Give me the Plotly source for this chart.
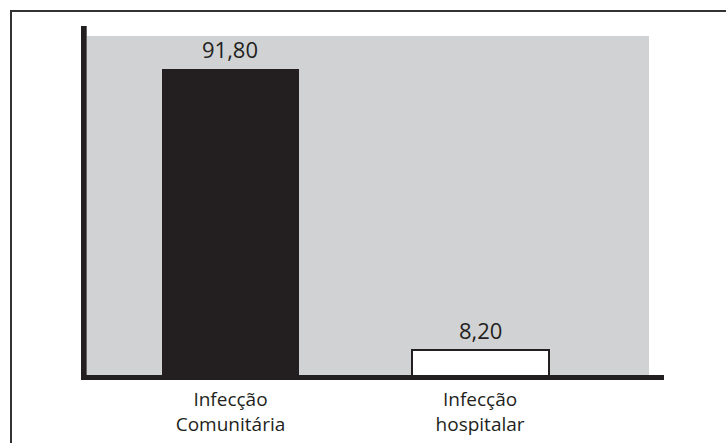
import plotly.graph_objects as go

categories = ["Infecção<br>Comunitária", "Infecção<br>hospitalar"]
values = [91.80, 8.20]
value_labels = ["91,80", "8,20"]

W, H = 726, 443
L, R, T, B = 87, 77, 36, 65
PW, PH = W - L - R, H - T - B
INK = "#231f20"
GRAY = "#d1d2d4"
FONT = "Open Sans"


def px(x):
    return (x - L) / PW


def py(y):
    return (H - B - y) / PH


fig = go.Figure()
fig.add_trace(go.Bar(
    x=categories,
    y=values,
    width=0.549,
    marker=dict(color=[INK, "#ffffff"], line=dict(color=INK, width=[0, 2])),
    hoverinfo="skip",
))

for c, v, t in zip(categories, values, value_labels):
    fig.add_annotation(x=c, y=v, text=t, showarrow=False, yanchor="bottom",
                       yshift=3, font=dict(family=FONT, size=22, color=INK))

shapes = [
    # outer frame (top and left)
    dict(type="line", xref="paper", yref="paper", x0=px(10), x1=px(726), y0=py(11), y1=py(11),
         line=dict(color="#333333", width=2)),
    dict(type="line", xref="paper", yref="paper", x0=px(11), x1=px(11), y0=py(10), y1=py(443),
         line=dict(color="#333333", width=2)),
    # axis lines
    dict(type="rect", xref="paper", yref="paper", x0=px(81), x1=px(86.7), y0=py(26), y1=py(380),
         fillcolor=INK, line=dict(width=0), layer="above"),
    dict(type="rect", xref="paper", yref="paper", x0=px(81), x1=px(664), y0=py(375), y1=py(380),
         fillcolor=INK, line=dict(width=0), layer="above"),
]

fig.update_layout(
    width=W, height=H,
    margin=dict(l=L, r=R, t=T, b=B, pad=0, autoexpand=False),
    paper_bgcolor="#ffffff",
    plot_bgcolor=GRAY,
    showlegend=False,
    shapes=shapes,
    bargap=0,
    xaxis=dict(type="category", range=[-0.575, 1.677], showline=False, showgrid=False,
               zeroline=False, ticks="", ticklabelstandoff=8, automargin=False,
               tickfont=dict(family=FONT, size=19, color=INK)),
    yaxis=dict(range=[0, 101.6], showline=False, showgrid=False, zeroline=False,
               showticklabels=False, ticks="", automargin=False),
)

fig.write_html("out.html", config={"displayModeBar": False},
               post_script="document.body.style.margin='0';document.body.style.overflow='hidden';")
